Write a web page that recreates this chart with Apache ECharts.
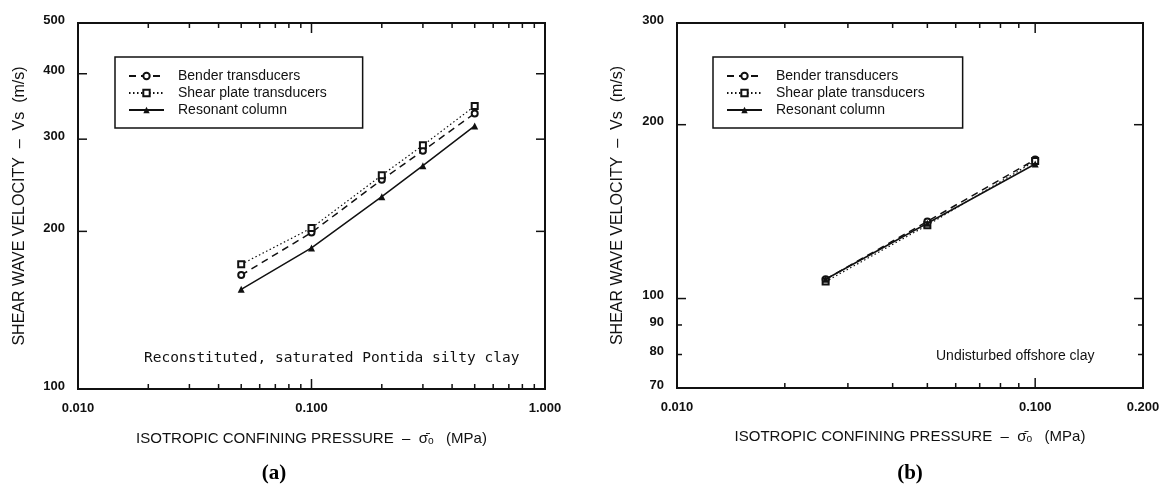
<!DOCTYPE html>
<html>
<head>
<meta charset="utf-8">
<script src="https://cdn.jsdelivr.net/npm/echarts@6/dist/echarts.min.js"></script>
<style>
  html, body { margin: 0; padding: 0; background: #fff; }
  #main { width: 1164px; height: 488px; }
</style>
</head>
<body>
<div id="main"></div>
<script>
// panel (a) - reconstituted Pontida silty clay
const pressA = [0.05, 0.1, 0.2, 0.3, 0.5];
const benderA = [165, 199, 251, 285, 336];
const shearA = [173, 203, 256, 292, 347];
const resonantA = [155, 186, 233, 267, 318];

// panel (b) - undisturbed offshore clay
const pressB = [0.026, 0.05, 0.1];
const benderB = [108, 136, 174];
const shearB = [107, 134, 173];
const resonantB = [108, 135, 171];

// tick labels
const xLabelsA = [0.01, 0.1, 1];
const yLabelsA = [100, 200, 300, 400, 500];
const xLabelsB = [0.01, 0.1, 0.2];
const yLabelsB = [70, 80, 90, 100, 200, 300];
const xMinorA = [0.02, 0.03, 0.04, 0.05, 0.06, 0.07, 0.08, 0.09, 0.2, 0.3, 0.4, 0.5, 0.6, 0.7, 0.8, 0.9];
const xMinorB = [0.02, 0.03, 0.04, 0.05, 0.06, 0.07, 0.08, 0.09];
const yMajorA = [200, 300, 400];
const yMajorB = [100, 200];
const yMinorB = [80, 90];

const names = ['Bender transducers', 'Shear plate transducers', 'Resonant column'];
const ink = '#111';

var chart = echarts.init(document.getElementById('main'), null, { renderer: 'canvas' });

function pairs(xs, ys) {
  return xs.map(function (x, i) { return [x, ys[i]]; });
}

function makeSeries(idx, bender, shear, reson, xs) {
  return [
    {
      name: names[0], type: 'line', xAxisIndex: idx, yAxisIndex: idx,
      data: pairs(xs, bender), symbol: 'emptyCircle', symbolSize: 6,
      lineStyle: { color: ink, width: 1.5, type: [7, 5] },
      itemStyle: { color: ink, borderWidth: 1.5 }, z: 3
    },
    {
      name: names[1], type: 'line', xAxisIndex: idx, yAxisIndex: idx,
      data: pairs(xs, shear), symbol: 'emptyRect', symbolSize: 6,
      lineStyle: { color: ink, width: 1.2, type: [1.5, 2.5] },
      itemStyle: { color: ink, borderWidth: 1.5 }, z: 3
    },
    {
      name: names[2], type: 'line', xAxisIndex: idx, yAxisIndex: idx,
      data: pairs(xs, reson), symbol: 'triangle', symbolSize: 7,
      lineStyle: { color: ink, width: 1.5, type: 'solid' },
      itemStyle: { color: ink }, z: 3
    }
  ];
}

function axisBase(size) {
  return {
    type: 'log', logBase: 10,
    axisLine: { show: false },
    axisTick: { show: false },
    axisLabel: { show: false },
    splitLine: { show: false },
    nameTextStyle: { fontFamily: 'Liberation Sans', fontSize: size, color: ink }
  };
}

function legendBox(left, padRight) {
  return {
    orient: 'vertical', left: left, top: 57,
    data: names,
    itemWidth: 35, itemHeight: 8, itemGap: 3,
    padding: [12, padRight, 11, 13],
    borderColor: ink, borderWidth: 1.5,
    selectedMode: false,
    textStyle: { fontFamily: 'Liberation Sans', fontSize: 14, color: ink, padding: [0, 0, 0, 9] }
  };
}

var xTitle = 'ISOTROPIC CONFINING PRESSURE  \u2013  \u03C3\u0304\u2092   (MPa)';
var yTitle = 'SHEAR WAVE VELOCITY  \u2013  Vs  (m/s)';

option = {
  backgroundColor: '#ffffff',
  animation: false,
  grid: [
    { left: 78, top: 23, width: 467, height: 366, show: true, borderColor: ink, borderWidth: 2 },
    { left: 677, top: 23, width: 466, height: 365, show: true, borderColor: ink, borderWidth: 2 }
  ],
  xAxis: [
    Object.assign(axisBase(15), { gridIndex: 0, min: 0.01, max: 1, name: xTitle, nameLocation: 'middle', nameGap: 42 }),
    Object.assign(axisBase(15), { gridIndex: 1, min: 0.01, max: 0.2, name: xTitle, nameLocation: 'middle', nameGap: 41 })
  ],
  yAxis: [
    Object.assign(axisBase(16), { gridIndex: 0, min: 100, max: 500, name: yTitle, nameLocation: 'middle', nameGap: 50 }),
    Object.assign(axisBase(16), { gridIndex: 1, min: 70, max: 300, name: yTitle, nameLocation: 'middle', nameGap: 51 })
  ],
  legend: [legendBox(115, 36), legendBox(713, 38)],
  series: makeSeries(0, benderA, shearA, resonantA, pressA)
    .concat(makeSeries(1, benderB, shearB, resonantB, pressB))
};

chart.setOption(option, true);

// ticks and tick labels placed through the axes' own log scales
function px(i, v) { return chart.convertToPixel({ xAxisIndex: i }, v); }
function py(i, v) { return chart.convertToPixel({ yAxisIndex: i }, v); }

var gfx = [];
var labelFont = { fontFamily: 'Liberation Sans', fontSize: 13, fontWeight: 'bold', fill: ink };

function tickLine(x1, y1, x2, y2) {
  gfx.push({ type: 'line', shape: { x1: x1, y1: y1, x2: x2, y2: y2 }, style: { stroke: ink, lineWidth: 1.5 }, silent: true });
}

function fmtX(v) { return v.toFixed(3); }

function addAxes(i, top, bottom, left, right, xLabels, xMinor, yLabels, yMajor, yMinor) {
  xMinor.forEach(function (v) {
    var x = px(i, v);
    tickLine(x, bottom, x, bottom - 5);
    tickLine(x, top, x, top + 5);
  });
  xLabels.forEach(function (v) {
    var x = px(i, v);
    tickLine(x, bottom, x, bottom - 10);
    tickLine(x, top, x, top + 10);
    gfx.push({ type: 'text', x: x, y: bottom + 19, style: Object.assign({ text: fmtX(v), align: 'center', verticalAlign: 'middle' }, labelFont), silent: true });
  });
  yMajor.forEach(function (v) {
    var y = py(i, v);
    tickLine(left, y, left + 9, y);
    tickLine(right, y, right - 9, y);
  });
  yMinor.forEach(function (v) {
    var y = py(i, v);
    tickLine(left, y, left + 5, y);
    tickLine(right, y, right - 5, y);
  });
  yLabels.forEach(function (v) {
    var y = py(i, v);
    gfx.push({ type: 'text', x: left - 13, y: y - 3, style: Object.assign({ text: String(v), align: 'right', verticalAlign: 'middle' }, labelFont), silent: true });
  });
}

addAxes(0, 23, 389, 78, 545, xLabelsA, xMinorA, yLabelsA, yMajorA, []);
addAxes(1, 23, 388, 677, 1143, xLabelsB, xMinorB, yLabelsB, yMajorB, yMinorB);

// notes inside the plots
gfx.push({ type: 'text', x: 144, y: 358, style: { text: 'Reconstituted, saturated Pontida silty clay', fontFamily: 'DejaVu Sans Mono', fontSize: 14.5, fill: ink, verticalAlign: 'middle' }, silent: true });
gfx.push({ type: 'text', x: 936, y: 356, style: { text: 'Undisturbed offshore clay', fontFamily: 'Liberation Sans', fontSize: 14, fill: ink, verticalAlign: 'middle' }, silent: true });

// panel captions
gfx.push({ type: 'text', x: 274, y: 474, style: { text: '(a)', fontFamily: 'Liberation Serif', fontSize: 21, fontWeight: 'bold', fill: '#000', align: 'center', verticalAlign: 'middle' }, silent: true });
gfx.push({ type: 'text', x: 910, y: 474, style: { text: '(b)', fontFamily: 'Liberation Serif', fontSize: 21, fontWeight: 'bold', fill: '#000', align: 'center', verticalAlign: 'middle' }, silent: true });

chart.setOption({ graphic: gfx });
</script>
</body>
</html>
